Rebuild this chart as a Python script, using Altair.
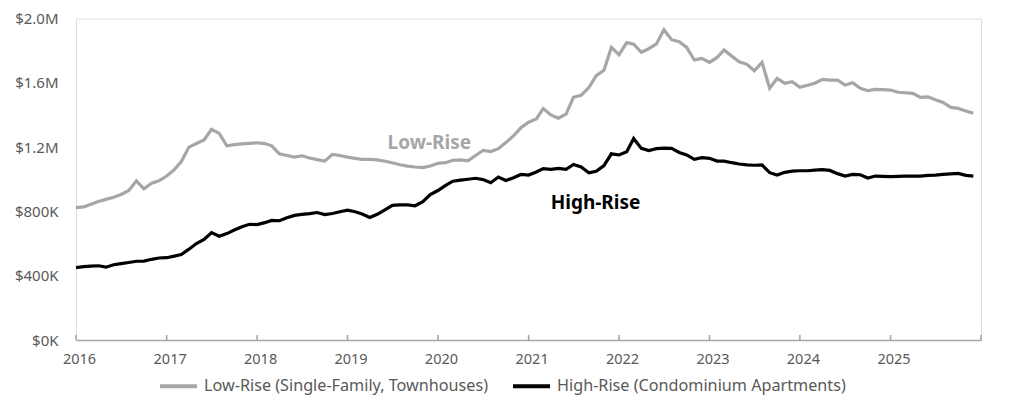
import altair as alt
import pandas as pd

# ---- data (values in thousands of dollars, monthly Jan 2016 - Dec 2025) ----
low_rise = [
    823, 828, 845, 862, 875, 888, 905, 930, 990, 940, 975, 990,
    1020, 1060, 1110, 1200, 1222, 1245, 1310, 1285, 1208, 1215, 1220, 1223,
    1227, 1222, 1208, 1158, 1148, 1138, 1146, 1132, 1122, 1113, 1155, 1148,
    1138, 1130, 1124, 1124, 1120, 1112, 1103, 1090, 1082, 1076, 1072, 1082,
    1099, 1103, 1118, 1120, 1115, 1148, 1180, 1172, 1190, 1228, 1270, 1320,
    1355, 1375, 1440, 1400, 1380, 1405, 1510, 1522, 1570, 1645, 1678, 1820,
    1775, 1850, 1840, 1790, 1812, 1842, 1930, 1868, 1855, 1820, 1742, 1752,
    1727, 1758, 1804, 1766, 1731, 1715, 1675, 1727, 1566, 1627, 1597, 1607,
    1572, 1585, 1597, 1621, 1617, 1617, 1586, 1600, 1566, 1551, 1559, 1557,
    1555, 1541, 1538, 1534, 1509, 1513, 1495, 1478, 1447, 1441, 1425, 1410,
]
high_rise = [
    450, 456, 460, 462, 453, 468, 475, 482, 490, 491, 502, 510,
    512, 522, 532, 565, 600, 626, 668, 645, 662, 684, 705, 720,
    718, 730, 744, 742, 760, 775, 781, 786, 793, 780, 787, 798,
    808, 798, 784, 762, 782, 810, 838, 840, 841, 835, 860, 905,
    930, 962, 988, 995, 1000, 1006, 998, 978, 1014, 992, 1010, 1030,
    1026, 1045, 1066, 1062, 1068, 1062, 1092, 1076, 1040, 1050, 1085, 1158,
    1151, 1171, 1254, 1192, 1178, 1190, 1193, 1192, 1167, 1151, 1124, 1134,
    1130, 1113, 1113, 1103, 1095, 1089, 1087, 1089, 1041, 1026, 1043, 1051,
    1053, 1053, 1057, 1060, 1055, 1035, 1020, 1030, 1028, 1008, 1020, 1018,
    1016, 1018, 1020, 1020, 1020, 1024, 1026, 1030, 1034, 1036, 1024, 1020,
]
series_names = ["Low-Rise (Single-Family, Townhouses)", "High-Rise (Condominium Apartments)"]
series_colors = ["#A6A6A6", "#000000"]

tick_years = list(range(2016, 2027))
label_years = list(range(2016, 2026))
y_ticks = [0, 400000, 800000, 1200000, 1600000, 2000000]

annot_labels = ["Low-Rise", "High-Rise"]
annot_dates = ["2019-11-27T00:00:00", "2021-09-28T00:00:00"]
annot_values = [1227000, 854000]
annot_colors = ["#A6A6A6", "#000000"]

# ---- build tables ----
months = pd.date_range("2016-01-01", periods=120, freq="MS").strftime("%Y-%m-%dT00:00:00")
rows = []
for name, vals in zip(series_names, [low_rise, high_rise]):
    for d, v in zip(months, vals):
        rows.append({"date": d, "value": v * 1000, "series": name})
df = pd.DataFrame(rows)
ticks_df = pd.DataFrame({"date": [f"{y}-01-01T00:00:00" for y in tick_years]})
annot_df = pd.DataFrame({"label": annot_labels, "date": annot_dates,
                         "value": annot_values, "color": annot_colors})

W, H = 905, 321.5
FONT = "Noto Sans"
x_scale = alt.Scale(domain=[alt.DateTime(year=2016, month=1, date=1),
                            alt.DateTime(year=2026, month=1, date=1)], nice=False)
y_scale = alt.Scale(domain=[0, 2000000], nice=False)

lines = alt.Chart(df).mark_line(strokeWidth=3.2, strokeJoin="miter").encode(
    x=alt.X("date:T", scale=x_scale, title=None,
            axis=alt.Axis(values=[alt.DateTime(year=y, month=1, date=1) for y in label_years],
                          format="%Y", labelAngle=0, tickSize=0, domainColor="#A6A6A6",
                          domainWidth=1.6, grid=False, labelFontSize=14.5, labelColor="#595959",
                          labelFont=FONT, labelPadding=12, labelAlign="center",
                          labelOffset=3)),
    y=alt.Y("value:Q", scale=y_scale, title=None,
            axis=alt.Axis(values=y_ticks, domain=False, ticks=False, grid=False,
                          labelFontSize=15, labelColor="#595959", labelFont=FONT,
                          labelPadding=18,
                          labelExpr="datum.value >= 1000000 ? '$' + format(datum.value/1000000, '.1f') + 'M' : '$' + format(datum.value/1000, '.0f') + 'K'")),
    color=alt.Color("series:N", scale=alt.Scale(domain=series_names, range=series_colors),
                    sort=series_names,
                    legend=alt.Legend(title=None, orient="none", legendX=82, legendY=347,
                                      direction="horizontal", symbolType="stroke",
                                      symbolStrokeWidth=4, symbolSize=1369,
                                      labelFontSize=16.2, labelFont=FONT, labelColor="#595959",
                                      labelLimit=0, columnPadding=16, padding=0,
                                      labelOffset=5)),
)

tick_rules = alt.Chart(ticks_df).mark_rule(color="#A6A6A6", strokeWidth=1.6).encode(
    x=alt.X("date:T", scale=x_scale),
    y=alt.value(H - 5),
    y2=alt.value(H),
)

annots = alt.Chart(annot_df).mark_text(font=FONT, fontSize=19, fontWeight="bold",
                                       align="center", baseline="middle").encode(
    x=alt.X("date:T", scale=x_scale),
    y=alt.Y("value:Q", scale=y_scale),
    text="label:N",
    color=alt.Color("color:N", scale=None),
)

chart = alt.layer(tick_rules, lines, annots).properties(
    width=W, height=H,
    autosize=alt.AutoSizeParams(type="none"),
    padding={"left": 68, "top": 10.5, "right": 20, "bottom": 56},
).configure_view(stroke=None).configure(background="white")

chart.save("out.html", embed_options={"renderer": "svg", "actions": False})
